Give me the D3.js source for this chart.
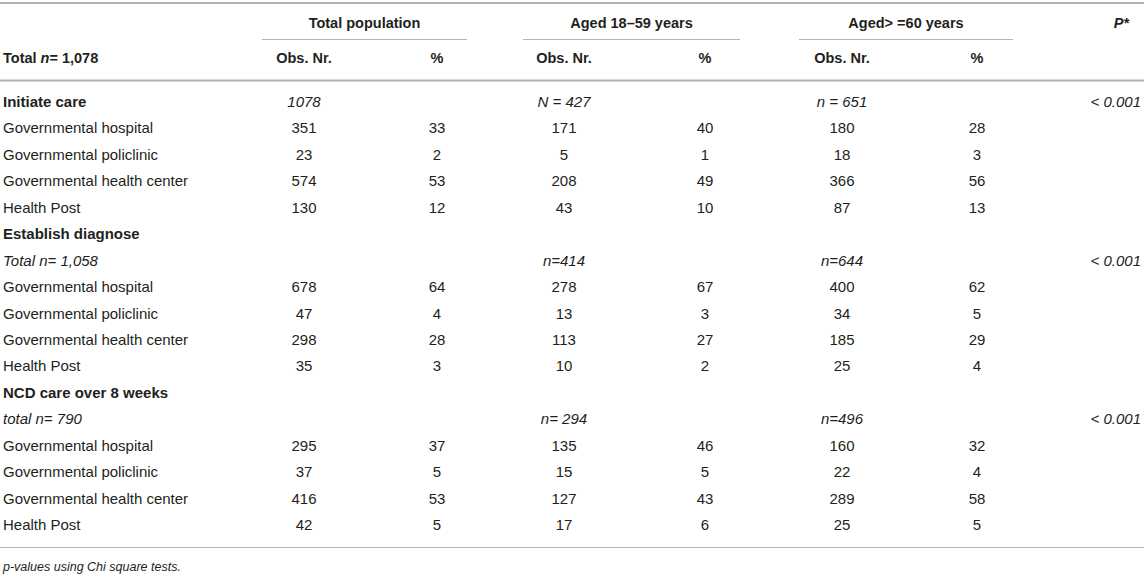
<!DOCTYPE html>
<html>
<head>
<meta charset="utf-8">
<script src="https://cdn.jsdelivr.net/npm/d3@7"></script>
<style>
  body { margin: 0; background: #fff; }
  text { font-family: "Liberation Sans", Arial, sans-serif; fill: #231f20; }
</style>
</head>
<body>
<svg id="tbl"></svg>
<script>
// table of care facilities by age group

const width = 1144;
const height = 574;

const groups = ["Total population", "Aged 18–59 years", "Aged> =60 years"];
const subCols = ["Obs. Nr.", "%"];
const sections = ["Initiate care", "Establish diagnose", "NCD care over 8 weeks"];
const facilities = ["Governmental hospital", "Governmental policlinic", "Governmental health center", "Health Post"];

// section totals (italic rows)
const sectionSub = [null, "Total n= 1,058", "total n= 790"];
const sectionTotal = ["1078", "", ""];
const sectionYoung = ["N = 427", "n=414", "n= 294"];
const sectionOld = ["n = 651", "n=644", "n=496"];
const pValues = ["< 0.001", "< 0.001", "< 0.001"];

// per facility, 3 sections x 4 facilities
const obsTotal = [351, 23, 574, 130, 678, 47, 298, 35, 295, 37, 416, 42];
const pctTotal = [33, 2, 53, 12, 64, 4, 28, 3, 37, 5, 53, 5];
const obsYoung = [171, 5, 208, 43, 278, 13, 113, 10, 135, 15, 127, 17];
const pctYoung = [40, 1, 49, 10, 67, 3, 27, 2, 46, 5, 43, 6];
const obsOld = [180, 18, 366, 87, 400, 34, 185, 25, 160, 22, 289, 25];
const pctOld = [28, 3, 56, 13, 62, 5, 29, 4, 32, 4, 58, 5];

const svg = d3.select("#tbl").attr("width", width).attr("height", height);
svg.selectAll("*").remove();

// column centres
const colX = d3.scaleOrdinal()
  .domain(["obs0", "pct0", "obs1", "pct1", "obs2", "pct2"])
  .range([304, 437, 564, 705, 842, 977]);
// group underline extents
const groupSpan = [[262, 467], [523, 740], [799, 1013]];

// build row list
const rows = [];
sections.forEach((s, si) => {
  if (si === 0) {
    rows.push({ label: s, bold: true, cells: [sectionTotal[si], "", sectionYoung[si], "", sectionOld[si], ""], italic: true, p: pValues[si] });
  } else {
    rows.push({ label: s, bold: true, cells: [] });
    rows.push({ label: sectionSub[si], italicLabel: true, cells: [sectionTotal[si], "", sectionYoung[si], "", sectionOld[si], ""], italic: true, p: pValues[si] });
  }
  facilities.forEach((f, fi) => {
    const k = si * 4 + fi;
    rows.push({ label: f, cells: [obsTotal[k], pctTotal[k], obsYoung[k], pctYoung[k], obsOld[k], pctOld[k]] });
  });
});

const y = d3.scalePoint()
  .domain(d3.range(rows.length))
  .range([107, 530]);

const ruleColor = "#b1b3b6";
const g = svg.append("g");

// rules
g.append("line").attr("x1", 0).attr("x2", width).attr("y1", 3).attr("y2", 3)
  .attr("stroke", ruleColor).attr("stroke-width", 2);
g.append("line").attr("x1", 0).attr("x2", width).attr("y1", 80.5).attr("y2", 80.5)
  .attr("stroke", ruleColor).attr("stroke-width", 2);
g.append("line").attr("x1", 0).attr("x2", width).attr("y1", 547.5).attr("y2", 547.5)
  .attr("stroke", ruleColor).attr("stroke-width", 1);

// group headers
const gh = g.selectAll(".grp").data(groups).join("g").attr("class", "grp");
gh.append("text")
  .attr("x", (d, i) => (groupSpan[i][0] + groupSpan[i][1]) / 2)
  .attr("y", 28)
  .attr("text-anchor", "middle")
  .attr("font-size", 14.5)
  .attr("font-weight", "bold")
  .text(d => d);
gh.append("line")
  .attr("x1", (d, i) => groupSpan[i][0])
  .attr("x2", (d, i) => groupSpan[i][1])
  .attr("y1", 39.5).attr("y2", 39.5)
  .attr("stroke", ruleColor).attr("stroke-width", 1.2);

// sub headers
groups.forEach((grp, i) => {
  subCols.forEach((c, j) => {
    g.append("text")
      .attr("x", colX((j === 0 ? "obs" : "pct") + i))
      .attr("y", 63)
      .attr("text-anchor", "middle")
      .attr("font-size", 14.5)
      .attr("font-weight", "bold")
      .text(c);
  });
});

const stub = g.append("text").attr("x", 3).attr("y", 63)
  .attr("font-size", 14.5).attr("font-weight", "bold");
stub.append("tspan").text("Total ");
stub.append("tspan").attr("font-style", "italic").text("n");
stub.append("tspan").text("= 1,078");

g.append("text").attr("x", 1129).attr("y", 28)
  .attr("text-anchor", "end").attr("font-size", 14.5)
  .attr("font-weight", "bold").attr("font-style", "italic")
  .text("P*");

// body rows
const rowG = g.selectAll(".row").data(rows).join("g")
  .attr("class", "row")
  .attr("transform", (d, i) => `translate(0, ${y(i)})`);

rowG.append("text")
  .attr("x", 3)
  .attr("font-size", 15)
  .attr("font-weight", d => d.bold ? "bold" : "normal")
  .attr("font-style", d => d.italicLabel ? "italic" : "normal")
  .text(d => d.label);

rowG.each(function(d) {
  const sel = d3.select(this);
  d.cells.forEach((v, ci) => {
    if (v === "" || v == null) return;
    const key = (ci % 2 === 0 ? "obs" : "pct") + Math.floor(ci / 2);
    sel.append("text")
      .attr("x", colX(key))
      .attr("text-anchor", "middle")
      .attr("font-size", 15)
      .attr("font-style", d.italic ? "italic" : "normal")
      .text(v);
  });
  if (d.p) {
    sel.append("text")
      .attr("x", 1141)
      .attr("text-anchor", "end")
      .attr("font-size", 15)
      .attr("font-style", "italic")
      .text(d.p);
  }
});

// footnote
g.append("text").attr("x", 3).attr("y", 571)
  .attr("font-size", 12.5).attr("font-style", "italic")
  .text("p-values using Chi square tests.");
</script>
</body>
</html>
